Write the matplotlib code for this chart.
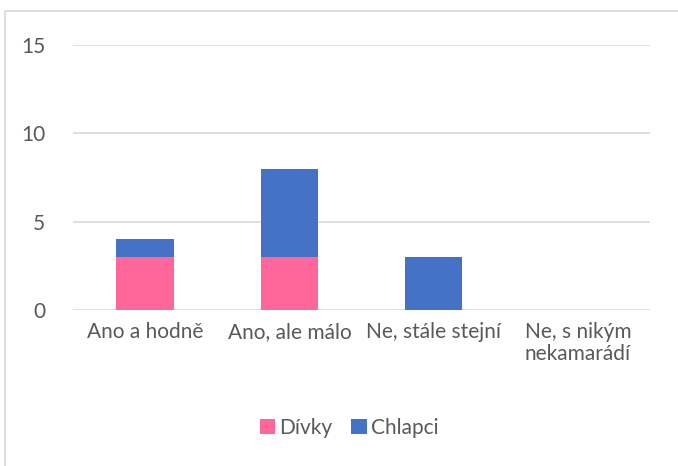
import matplotlib
matplotlib.use("Agg")
import numpy as np
from matplotlib import pyplot as plt
from matplotlib.patches import Rectangle

categories = ["Ano a hodně", "Ano, ale málo", "Ne, stále stejní", "Ne, s nikým\nnekamarádí"]
divky = [3, 3, 0, 0]
chlapci = [1, 5, 3, 0]
yticks = [0, 5, 10, 15]

plt.rcParams['font.family'] = ['Lato', 'DejaVu Sans']

fig = plt.figure(figsize=(6.78, 4.66), dpi=100)
ax = fig.add_axes([73 / 678, 1 - 310 / 466, (650 - 73) / 678, (310 - 45) / 466])

# chart border (cut off at right and bottom like the reference)
fig.patches.append(Rectangle((5 / 678, -0.1), 1.2, 1 - 11 / 466 + 0.1,
                             transform=fig.transFigure, fill=False,
                             edgecolor='#D9D9D9', linewidth=1.2))

x = np.arange(len(categories))
ax.bar(x, divky, width=0.4, color='#FF6699', label='Dívky', zorder=3)
ax.bar(x, chlapci, width=0.4, bottom=divky, color='#4472C4', label='Chlapci', zorder=3)

ax.set_xlim(-0.5, len(categories) - 0.5)
ax.set_ylim(0, 15)
ax.set_yticks(yticks)
ax.set_xticks(x)
ax.set_xticklabels(categories, linespacing=1.1)
ax.yaxis.grid(True, color='#D9D9D9', linewidth=1.2, zorder=0)
for s in ax.spines.values():
    s.set_visible(False)
ax.tick_params(length=0, labelsize=15, colors='#595959', pad=9)
ax.tick_params(axis='y', pad=20)

leg = fig.legend(loc='center', bbox_to_anchor=(0.515, 1 - 428 / 466), ncol=2,
                 frameon=False, fontsize=15, handlelength=0.75, handleheight=0.75,
                 handletextpad=0.2, columnspacing=0.9)
for t in leg.get_texts():
    t.set_color('#595959')

fig.savefig("out.png", dpi=100)
